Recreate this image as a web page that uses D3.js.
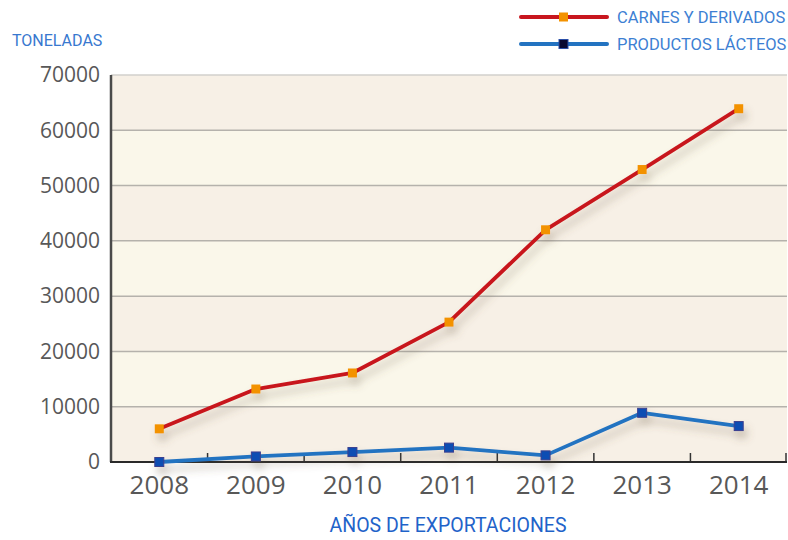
<!DOCTYPE html>
<html>
<head>
<meta charset="utf-8">
<script src="https://cdn.jsdelivr.net/npm/d3@7"></script>
<style>
  body { margin: 0; background: #fff; }
  text { font-family: Roboto, "Open Sans", sans-serif; }
</style>
</head>
<body>
<div id="chart"></div>
<script>
    // data
    var years = ["2008", "2009", "2010", "2011", "2012", "2013", "2014"];
    var carnes = [6000, 13200, 16100, 25300, 42000, 52900, 63900];
    var lacteos = [0, 1000, 1800, 2600, 1200, 8900, 6500];
    var yTicks = [0, 10000, 20000, 30000, 40000, 50000, 60000, 70000];
    var seriesNames = ["CARNES Y DERIVADOS", "PRODUCTOS LÁCTEOS"];

    var margin = { top: 75, right: 1, bottom: 78, left: 111 },
        width = 788 - margin.left - margin.right,
        height = 540 - margin.top - margin.bottom;

    var svg = d3.select("#chart")
        .append("svg")
        .attr("width", 788)
        .attr("height", 540)
        .append("g")
        .attr("transform", `translate(${margin.left},${margin.top})`);

    var defs = svg.append("defs");
    defs.append("filter")
        .attr("id", "shadow")
        .attr("x", "-10%").attr("y", "-10%")
        .attr("width", "130%").attr("height", "140%")
        .append("feDropShadow")
        .attr("dx", 3).attr("dy", 7)
        .attr("stdDeviation", 4)
        .attr("flood-color", "#6b5a40")
        .attr("flood-opacity", 0.35);

    var x = d3.scaleBand().domain(years).range([0, width]).padding(0);
    var y = d3.scaleLinear().domain([0, 70000]).range([height, 0]);

    // alternating background bands
    svg.selectAll(".band")
        .data(yTicks.slice(0, -1))
        .enter()
        .append("rect")
        .attr("x", 0)
        .attr("width", width)
        .attr("y", function (d) { return y(d + 10000); })
        .attr("height", function (d) { return y(d) - y(d + 10000); })
        .attr("fill", function (d, i) { return i % 2 == 0 ? "#f7f0e6" : "#faf7ea"; });

    // grid lines
    svg.selectAll(".grid")
        .data(yTicks.slice(1))
        .enter()
        .append("line")
        .attr("x1", 0).attr("x2", width)
        .attr("y1", function (d) { return y(d); })
        .attr("y2", function (d) { return y(d); })
        .attr("stroke", function (d) { return d == 70000 ? "#d2d0cc" : "#b5b2ac"; })
        .attr("stroke-width", 1.5);

    // y axis labels
    var yAxis = svg.append("g")
        .call(d3.axisLeft(y).tickValues(yTicks).tickSize(0).tickPadding(11).tickFormat(d3.format("d")));
    yAxis.select(".domain").remove();
    yAxis.selectAll("text")
        .attr("fill", "#585858")
        .style("font-size", "21px")
        .style("font-family", "'Open Sans', sans-serif");

    // x axis labels
    var xAxis = svg.append("g")
        .attr("transform", `translate(0,${height})`)
        .call(d3.axisBottom(x).tickSize(0).tickPadding(14));
    xAxis.select(".domain").remove();
    xAxis.selectAll("text")
        .attr("fill", "#585858")
        .style("font-size", "26px")
        .style("font-family", "'Open Sans', sans-serif");

    // boundary ticks on the x axis
    svg.selectAll(".xtick")
        .data(years.slice(1).concat([null]))
        .enter()
        .append("line")
        .attr("x1", function (d) { return d ? x(d) : width - 1; })
        .attr("x2", function (d) { return d ? x(d) : width - 1; })
        .attr("y1", height)
        .attr("y2", height - 9)
        .attr("stroke", "#333")
        .attr("stroke-width", 1.5);

    // axis lines
    svg.append("line")
        .attr("x1", 0).attr("x2", 0)
        .attr("y1", 0).attr("y2", height)
        .attr("stroke", "#4a4a4a").attr("stroke-width", 2.5);
    svg.append("line")
        .attr("x1", -1).attr("x2", width)
        .attr("y1", height).attr("y2", height)
        .attr("stroke", "#2a2a2a").attr("stroke-width", 2);

    var line = d3.line()
        .x(function (d, i) { return x(years[i]) + x.bandwidth() / 2; })
        .y(function (d) { return y(d); });

    function drawSeries(values, color, markFill, markStroke, size) {
        var g = svg.append("g").attr("filter", "url(#shadow)");
        g.append("path")
            .datum(values)
            .attr("fill", "none")
            .attr("stroke", color)
            .attr("stroke-width", 3.8)
            .attr("stroke-linejoin", "round")
            .attr("d", line);
        g.selectAll("rect")
            .data(values)
            .enter()
            .append("rect")
            .attr("x", function (d, i) { return x(years[i]) + x.bandwidth() / 2 - size / 2; })
            .attr("y", function (d) { return y(d) - size / 2; })
            .attr("width", size)
            .attr("height", size)
            .attr("fill", markFill)
            .attr("stroke", markStroke)
            .attr("stroke-width", markStroke == "none" ? 0 : 1);
    }

    drawSeries(lacteos, "#2373c1", "#0d4db3", "#3b3f8f", 9);
    drawSeries(carnes, "#c8161e", "#f39200", "none", 9);

    // titles
    var root = d3.select("#chart svg");
    root.append("text")
        .attr("x", 12).attr("y", 46)
        .attr("fill", "#3878cf")
        .style("font-size", "16px")
        .text("TONELADAS");
    root.append("text")
        .attr("x", 448).attr("y", 532)
        .attr("text-anchor", "middle")
        .attr("fill", "#1f63c9")
        .style("font-size", "19.5px")
        .text("AÑOS DE EXPORTACIONES");

    // legend
    var legend = root.append("g");
    var legendColors = [["#c8161e", "#f39200", "none"], ["#2373c1", "#0a0a30", "#2b4fa8"]];
    seriesNames.forEach(function (name, i) {
        var ly = 17 + i * 27;
        legend.append("line")
            .attr("x1", 521).attr("x2", 607)
            .attr("y1", ly).attr("y2", ly)
            .attr("stroke", legendColors[i][0])
            .attr("stroke-width", 4)
            .attr("stroke-linecap", "round");
        legend.append("rect")
            .attr("x", 559).attr("y", ly - 4.5)
            .attr("width", 9).attr("height", 9)
            .attr("fill", legendColors[i][1])
            .attr("stroke", legendColors[i][2])
            .attr("stroke-width", legendColors[i][2] == "none" ? 0 : 1);
        legend.append("text")
            .attr("x", 617).attr("y", ly + 6)
            .attr("fill", "#3d7fd3")
            .style("font-size", "16.5px")
            .text(name);
    });
</script>
</body>
</html>
